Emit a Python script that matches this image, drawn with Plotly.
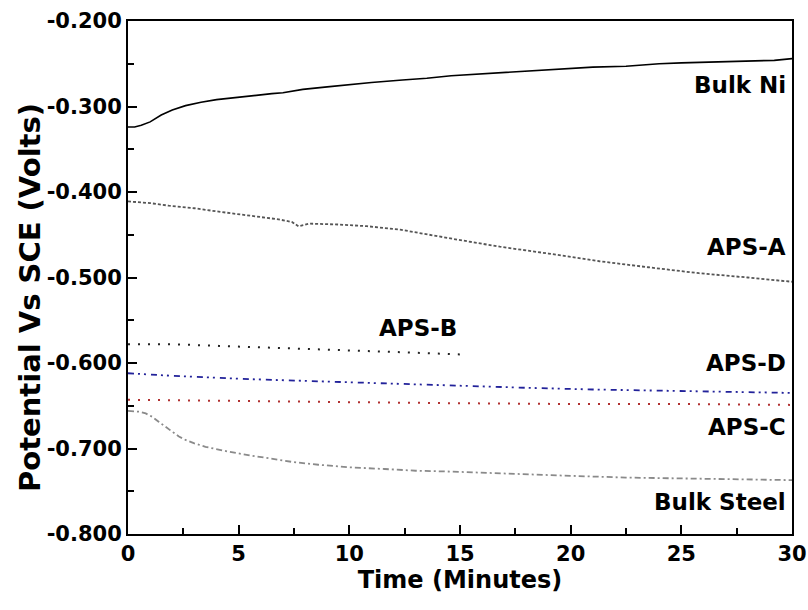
import plotly.graph_objects as go

# Open-circuit potential vs time for each coating / bulk material
t_bulk_ni = [0, 0.3, 0.6, 1.0, 1.5, 2.0, 2.6, 3.3, 4.0, 5.0, 5.6, 6.5, 7.0, 7.9, 9.0, 10.1,
             11.0, 12.4, 13.5, 14.6, 16.0, 17.5, 19.0, 21.0, 22.5, 24.0, 25.0, 26.5, 27.5,
             28.5, 29.2, 30.0]
v_bulk_ni = [-0.324, -0.324, -0.322, -0.318, -0.310, -0.304, -0.299, -0.295, -0.292, -0.289,
             -0.288, -0.285, -0.284, -0.280, -0.277, -0.274, -0.272, -0.269, -0.267, -0.264,
             -0.262, -0.259, -0.257, -0.254, -0.253, -0.250, -0.249, -0.248, -0.248, -0.247,
             -0.246, -0.244]

t_aps_a = [0, 1.0, 1.85, 3.0, 4.1, 5.0, 5.9, 6.8, 7.4, 7.7, 8.2, 9.5, 10.8, 12.3, 14.5,
           16.8, 19.0, 21.3, 23.5, 25.8, 28.0, 30.0]
v_aps_a = [-0.411, -0.413, -0.416, -0.419, -0.423, -0.426, -0.429, -0.432, -0.435, -0.440,
           -0.437, -0.438, -0.440, -0.444, -0.454, -0.464, -0.472, -0.481, -0.488, -0.495,
           -0.500, -0.505]

t_aps_b = [0, 2.0, 4.1, 6.5, 8.6, 10.8, 13.0, 15.0]
v_aps_b = [-0.578, -0.578, -0.580, -0.582, -0.584, -0.586, -0.588, -0.590]

t_aps_d = [0, 2.0, 5.6, 8.0, 10.8, 14.7, 18.0, 21.0, 25.0, 30.0]
v_aps_d = [-0.612, -0.615, -0.619, -0.621, -0.623, -0.627, -0.629, -0.631, -0.633, -0.635]

t_aps_c = [0, 5.0, 10.8, 14.7, 20.0, 25.0, 30.0]
v_aps_c = [-0.643, -0.644, -0.646, -0.647, -0.648, -0.648, -0.649]

t_bulk_steel = [0, 0.5, 0.8, 1.1, 1.4, 1.7, 2.0, 2.3, 2.6, 3.0, 3.5, 4.0, 4.6, 5.5, 6.4,
                7.5, 8.6, 10.0, 11.6, 13.0, 14.6, 17.5, 20.0, 22.5, 25.0, 27.5, 30.0]
v_bulk_steel = [-0.656, -0.657, -0.659, -0.663, -0.669, -0.675, -0.681, -0.686, -0.690,
                -0.694, -0.698, -0.701, -0.704, -0.708, -0.712, -0.716, -0.719, -0.722,
                -0.724, -0.726, -0.727, -0.730, -0.732, -0.734, -0.735, -0.736, -0.737]

y_ticks = [-0.8, -0.7, -0.6, -0.5, -0.4, -0.3, -0.2]
x_ticks = [0, 5, 10, 15, 20, 25, 30]

# Curve labels: (text, x, y, anchor)
labels = [
    ("Bulk Ni", 29.8, -0.275, "right"),
    ("APS-A", 29.8, -0.464, "right"),
    ("APS-B", 13.1, -0.559, "center"),
    ("APS-D", 29.8, -0.600, "right"),
    ("APS-C", 29.8, -0.675, "right"),
    ("Bulk Steel", 29.8, -0.763, "right"),
]

FONT = "DejaVu Sans"

fig = go.Figure()
series = [
    (t_bulk_ni, v_bulk_ni, "#000000", "solid", 1.6),
    (t_aps_a, v_aps_a, "#555555", "3px,2px", 1.8),
    (t_aps_b, v_aps_b, "#222222", "2px,8px", 2),
    (t_aps_d, v_aps_d, "#22229a", "6px,4px,2px,4px,2px,5px", 1.8),
    (t_aps_c, v_aps_c, "#b03030", "2px,8px", 2),
    (t_bulk_steel, v_bulk_steel, "#8a8a8a", "6px,3px,2px,3px", 1.8),
]
for x, y, color, dash, w in series:
    fig.add_trace(go.Scatter(x=x, y=y, mode="lines",
                             line=dict(color=color, dash=dash, width=w),
                             showlegend=False, hoverinfo="skip"))

for text, x, y, anchor in labels:
    fig.add_annotation(x=x, y=y, text=text, showarrow=False, xanchor=anchor, yanchor="middle",
                       font=dict(family=FONT, size=23, color="#000000", weight="bold"))

# Vertical axis title, placed as a rotated annotation left of the tick labels
fig.add_annotation(x=0, y=0.46, xref="paper", yref="paper", xshift=-98,
                   text="Potential Vs SCE (Volts)", textangle=-90, showarrow=False,
                   xanchor="center", yanchor="middle",
                   font=dict(family=FONT, size=29, color="#000000", weight="bold"))

axis_common = dict(
    showline=True, linecolor="#000000", linewidth=2, mirror=True,
    ticks="inside", ticklen=9, tickwidth=2, tickcolor="#000000",
    showgrid=False, zeroline=False, automargin=False,
    tickfont=dict(family=FONT, size=21, color="#000000", weight="bold"),
)

fig.update_xaxes(range=[0, 30], tickvals=x_ticks, ticktext=[str(v) for v in x_ticks],
                 minor=dict(ticks="inside", ticklen=6, tickwidth=2, dtick=2.5, tickcolor="#000000"),
                 title=dict(text="Time (Minutes)", standoff=6,
                            font=dict(family=FONT, size=24, color="#000000", weight="bold")),
                 **axis_common)
fig.update_yaxes(range=[-0.8, -0.2], tickvals=y_ticks, ticktext=[f"{v:.3f}" for v in y_ticks],
                 minor=dict(ticks="inside", ticklen=6, tickwidth=2, dtick=0.05, tickcolor="#000000"),
                 **axis_common)

fig.update_layout(width=808, height=610, margin=dict(l=128, r=16, t=21, b=76),
                  plot_bgcolor="white", paper_bgcolor="white")

fig.write_html("out.html")
